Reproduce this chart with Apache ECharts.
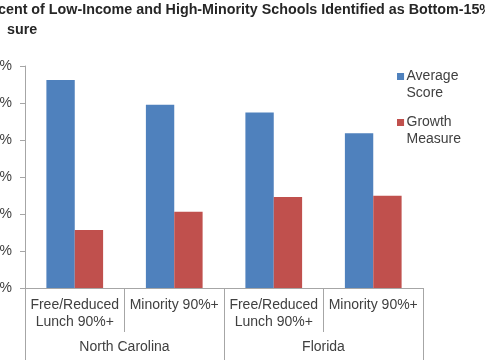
<!DOCTYPE html>
<html><head><meta charset="utf-8">
<script src="https://cdn.jsdelivr.net/npm/echarts@6/dist/echarts.min.js"></script>
<style>html,body{margin:0;padding:0;background:#fff}#c{width:485px;height:360px}</style>
</head><body><div id="c"></div>
<script>
var subCategories = ['Free/Reduced\nLunch 90%+', 'Minority 90%+', 'Free/Reduced\nLunch 90%+', 'Minority 90%+'];
var groupCategories = ['North Carolina', 'Florida'];
var averageScore = [56.2, 49.5, 47.4, 41.8];
var growthMeasure = [15.7, 20.6, 24.6, 24.9];
var yTicks = [0, 10, 20, 30, 40, 50, 60];
var titleLine1 = 'cent of Low-Income and High-Minority Schools Identified as Bottom-15%';
var titleLine2 = 'sure';

var chart = echarts.init(document.getElementById('c'), null, {renderer: 'canvas'});
var grey = '#a6a6a6';
var txt = '#404040';
var font = 'Liberation Sans, Arial, sans-serif';
var legendIcon = 'path://M0,0H10V10H0Z M0,34L10,34';
chart.setOption({
  animation: false,
  textStyle: {fontFamily: font},
  title: [
    {text: titleLine1, left: -2, top: 3, padding: 0, textStyle: {fontSize: 14.3, fontWeight: 'bold', color: '#262626', fontFamily: font}},
    {text: titleLine2, left: 7, top: 23, padding: 0, textStyle: {fontSize: 14.3, fontWeight: 'bold', color: '#262626', fontFamily: font}}
  ],
  legend: {
    orient: 'vertical', left: 397, top: 68, padding: 0,
    itemWidth: 8, itemHeight: 24, itemGap: 12,
    itemStyle: {borderWidth: 0},
    textStyle: {fontSize: 14, color: txt, lineHeight: 17, fontFamily: font, padding: [0, 0, 0, -3]},
    data: [{name: 'Average\nScore', icon: legendIcon}, {name: 'Growth\nMeasure', icon: legendIcon}]
  },
  grid: {left: 25, right: 62, top: 66, bottom: 72, containLabel: false, outerBoundsMode: 'none'},
  xAxis: [
    {type: 'category', data: subCategories, position: 'bottom',
     axisLine: {show: true, lineStyle: {color: grey}},
     axisTick: {show: true, length: 44, interval: 0, lineStyle: {color: grey}},
     axisLabel: {interval: 0, margin: 9, fontSize: 14, color: txt, lineHeight: 17, fontFamily: font}},
    {type: 'category', data: groupCategories, position: 'bottom',
     axisLine: {show: false},
     axisTick: {show: true, length: 72, interval: 0, lineStyle: {color: grey}},
     axisLabel: {interval: 0, margin: 52, fontSize: 14, color: txt, fontFamily: font}}
  ],
  yAxis: {type: 'value', min: yTicks[0], max: yTicks[yTicks.length - 1], interval: 10,
    splitLine: {show: false},
    axisLine: {show: true, lineStyle: {color: grey}},
    axisTick: {show: true, length: 5, lineStyle: {color: grey}},
    axisLabel: {formatter: '{value}%', margin: 13, fontSize: 14, color: txt, fontFamily: font}},
  series: [
    {name: 'Average\nScore', type: 'bar', data: averageScore, barGap: 0, barCategoryGap: '43%', itemStyle: {color: '#4f81bd'}},
    {name: 'Growth\nMeasure', type: 'bar', data: growthMeasure, itemStyle: {color: '#c0504d'}}
  ]
});
</script></body></html>
